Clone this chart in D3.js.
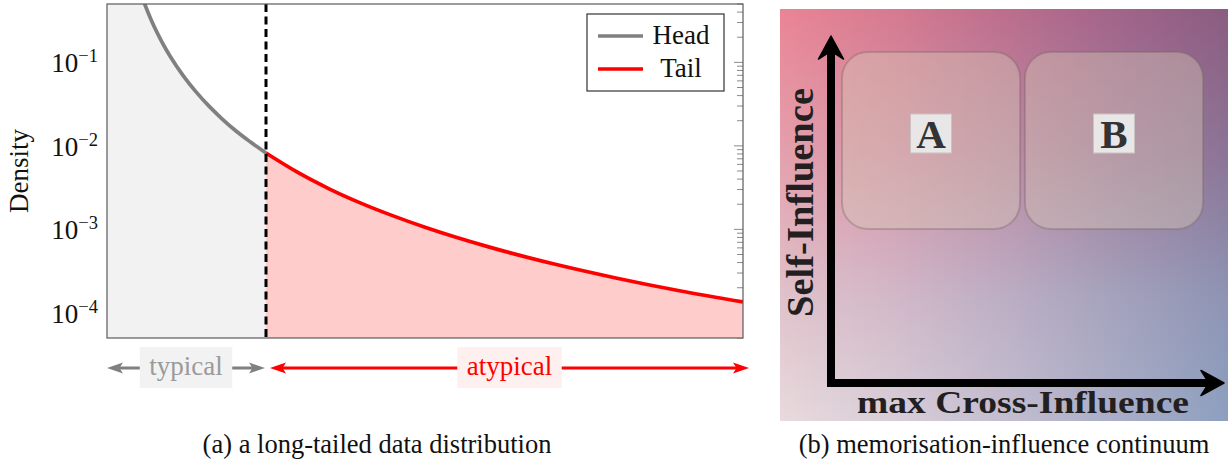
<!DOCTYPE html>
<html>
<head>
<meta charset="utf-8">
<script src="https://cdn.jsdelivr.net/npm/d3@7"></script>
<style>
  body { margin: 0; background: #fff; }
  svg { display: block; }
</style>
</head>
<body>
<div id="chart"></div>
<script>
var w = 1228;
var h = 461;

// (a) density curve
var headX = [0, 0.5, 0.6, 0.7, 0.8, 0.9, 1.0, 1.2, 1.4, 1.6, 1.8, 2.0, 2.25, 2.5];
var headY = [0.79, 0.79, 0.483, 0.316, 0.218, 0.156, 0.116, 0.069, 0.0443, 0.0301, 0.0214, 0.0157, 0.0112, 0.0082];
var tailX = [2.5, 3, 3.5, 4, 4.5, 5, 6, 7, 8, 9, 10];
var tailY = [0.0082, 0.0048, 0.00304, 0.00205, 0.00145, 0.00106, 0.000617, 0.00039, 0.000262, 0.000184, 0.000135];
var threshold = 2.5;
var yTicks = [1e-1, 1e-2, 1e-3, 1e-4];
var yTickExp = ["\u22121", "\u22122", "\u22123", "\u22124"];
var seriesNames = ["Head", "Tail"];
var regionNames = ["typical", "atypical"];

// (b) continuum
var boxLabels = ["A", "B"];
var gradRowStops = [0, 0.35, 0.7, 1];
var gradRows = [
  ["#ea8494", "#d67a90", "#bc6e8c", "#a2648a", "#8a5c80"],
  ["#e4a0ac", "#d494a8", "#bc8aa4", "#a07c9c", "#8c7496"],
  ["#e0c2ca", "#d2b8c8", "#bcaec4", "#a4a2bc", "#8e94b4"],
  ["#e8dadd", "#d8ced8", "#c4bed0", "#aaaec8", "#8ca0c0"]
];
var captions = ["(a) a long-tailed data distribution", "(b) memorisation-influence continuum"];

var serif = "'Liberation Serif', 'Times New Roman', serif";

var svg = d3.select("#chart").append("svg").attr("width", w).attr("height", h);
var defs = svg.append("defs");

// ---------- panel (a) ----------
var x = d3.scaleLinear().domain([0, 10]).range([107, 743]);
var y = d3.scaleLog().domain([5e-5, 0.5]).range([338, 4]);

defs.append("clipPath").attr("id", "plotclip")
  .append("rect")
  .attr("x", x(0)).attr("y", y(0.5))
  .attr("width", x(10) - x(0)).attr("height", y(5e-5) - y(0.5));

var head = headX.map(function (d, i) { return [d, headY[i]]; });
var tail = tailX.map(function (d, i) { return [d, tailY[i]]; });

// right-side log ticks (drawn under the fills)
var minor = [];
[1e-5, 1e-4, 1e-3, 1e-2, 1e-1].forEach(function (b) {
  for (var k = 1; k <= 9; k++) {
    var v = b * k;
    if (v >= 5e-5 && v <= 0.5) minor.push({ v: v, major: k === 1 });
  }
});
svg.append("g")
  .selectAll("line")
  .data(minor)
  .enter()
  .append("line")
  .attr("x1", function (d) { return x(10) - (d.major ? 9 : 6); })
  .attr("x2", x(10))
  .attr("y1", function (d) { return y(d.v); })
  .attr("y2", function (d) { return y(d.v); })
  .attr("stroke", "#8a8a8a")
  .attr("stroke-width", 1);

var area = d3.area()
  .x(function (d) { return x(d[0]); })
  .y0(y(5e-5))
  .y1(function (d) { return y(d[1]); })
  .curve(d3.curveMonotoneX);

var line = d3.line()
  .x(function (d) { return x(d[0]); })
  .y(function (d) { return y(d[1]); })
  .curve(d3.curveMonotoneX);

var plot = svg.append("g").attr("clip-path", "url(#plotclip)");

plot.append("path").datum(head).attr("d", area).attr("fill", "#f2f2f2");
plot.append("path").datum(tail).attr("d", area).attr("fill", "#ffcccc");

plot.append("path").datum(head.slice(1)).attr("d", line)
  .attr("fill", "none").attr("stroke", "#808080").attr("stroke-width", 3.7);
plot.append("path").datum(tail).attr("d", line)
  .attr("fill", "none").attr("stroke", "#ff0000").attr("stroke-width", 3.7);

svg.append("line")
  .attr("x1", x(threshold)).attr("x2", x(threshold))
  .attr("y1", y(0.5)).attr("y2", y(5e-5))
  .attr("stroke", "#000").attr("stroke-width", 3)
  .attr("stroke-dasharray", "8,4.5");

svg.append("rect")
  .attr("x", x(0)).attr("y", y(0.5))
  .attr("width", x(10) - x(0)).attr("height", y(5e-5) - y(0.5))
  .attr("fill", "none").attr("stroke", "#5a5a5a").attr("stroke-width", 1.2);

// y tick labels 10^k
var tl = svg.append("g")
  .selectAll("text")
  .data(yTicks)
  .enter()
  .append("text")
  .attr("x", 98)
  .attr("y", function (d) { return y(d) + 10; })
  .attr("text-anchor", "end")
  .attr("font-family", serif)
  .attr("font-size", "27px")
  .attr("fill", "#111");
tl.append("tspan").text("10");
tl.append("tspan")
  .attr("dy", -10)
  .attr("font-size", "18.5px")
  .text(function (d, i) { return yTickExp[i]; });

svg.append("text")
  .attr("transform", "translate(28," + (y(0.5) + y(5e-5)) / 2 + ") rotate(-90)")
  .attr("text-anchor", "middle")
  .attr("font-family", serif)
  .attr("font-size", "27px")
  .attr("fill", "#111")
  .text("Density");

// legend
var legend = svg.append("g");
legend.append("rect")
  .attr("x", 587).attr("y", 14).attr("width", 137).attr("height", 77)
  .attr("fill", "#fff").attr("stroke", "#333").attr("stroke-width", 1.2);
var legColors = ["#808080", "#ff0000"];
seriesNames.forEach(function (name, i) {
  var ly = 36 + i * 33;
  legend.append("line")
    .attr("x1", 598).attr("x2", 643).attr("y1", ly).attr("y2", ly)
    .attr("stroke", legColors[i]).attr("stroke-width", 3.7);
  legend.append("text")
    .attr("x", 681).attr("y", ly + 8)
    .attr("text-anchor", "middle")
    .attr("font-family", serif)
    .attr("font-size", "27px")
    .attr("fill", "#111")
    .text(name);
});

// region arrows under the axis
function arrowHead(tip, yy, dir) {
  return "M" + tip + "," + yy +
    "L" + (tip - dir * 16) + "," + (yy - 5.5) +
    "L" + (tip - dir * 12.5) + "," + yy +
    "L" + (tip - dir * 16) + "," + (yy + 5.5) + "Z";
}
var regions = [
  { name: regionNames[0], a: x(0), b: x(threshold) - 1, color: "#808080", text: "#9a9a9a", bg: "#f2f2f2" },
  { name: regionNames[1], a: x(threshold) + 4, b: x(10) + 6, color: "#ff0000", text: "#ff0000", bg: "#fff0f0" }
];
var ay = 368;
regions.forEach(function (r) {
  var g = svg.append("g");
  g.append("line")
    .attr("x1", r.a + 10).attr("x2", r.b - 10).attr("y1", ay).attr("y2", ay)
    .attr("stroke", r.color).attr("stroke-width", 3.2);
  g.append("path").attr("d", arrowHead(r.a, ay, -1)).attr("fill", r.color);
  g.append("path").attr("d", arrowHead(r.b, ay, 1)).attr("fill", r.color);
  var cx = (r.a + r.b) / 2;
  var bg = g.append("rect").attr("fill", r.bg);
  var t = g.append("text")
    .attr("x", cx).attr("y", 375)
    .attr("text-anchor", "middle")
    .attr("font-family", serif)
    .attr("font-size", "27px")
    .attr("fill", r.text)
    .text(r.name);
  var tw = t.node().getComputedTextLength();
  bg.attr("x", cx - tw / 2 - 9.5).attr("width", tw + 19)
    .attr("y", 347).attr("height", 41);
});

// ---------- panel (b) ----------
var px0 = 780, px1 = 1228, py0 = 9, py1 = 421;
var nStripes = 112;
var sw = (px1 - px0) / nStripes;
var colScale = gradRows.map(function (row) {
  return d3.scaleLinear()
    .domain(row.map(function (d, i) { return i / (row.length - 1); }))
    .range(row)
    .interpolate(d3.interpolateRgb);
});
var stripes = d3.range(nStripes);
var grads = defs.selectAll("linearGradient.st")
  .data(stripes)
  .enter()
  .append("linearGradient")
  .attr("class", "st")
  .attr("id", function (d) { return "st" + d; })
  .attr("x1", 0).attr("y1", 0).attr("x2", 0).attr("y2", 1);
grads.selectAll("stop")
  .data(function (d) {
    var t = (d + 0.5) / nStripes;
    return gradRowStops.map(function (o, k) { return { o: o, c: colScale[k](t) }; });
  })
  .enter()
  .append("stop")
  .attr("offset", function (d) { return d.o; })
  .attr("stop-color", function (d) { return d.c; });

svg.append("g")
  .selectAll("rect")
  .data(stripes)
  .enter()
  .append("rect")
  .attr("x", function (d) { return px0 + d * sw; })
  .attr("y", py0)
  .attr("width", sw + 0.6)
  .attr("height", py1 - py0)
  .attr("fill", function (d) { return "url(#st" + d + ")"; });

var band = d3.scaleBand().domain(boxLabels).range([842, 1203]).paddingInner(0.027);
var boxes = svg.append("g")
  .selectAll("g")
  .data(boxLabels)
  .enter()
  .append("g");
boxes.append("rect")
  .attr("x", function (d) { return band(d); })
  .attr("y", 52)
  .attr("width", band.bandwidth())
  .attr("height", 177)
  .attr("rx", 26)
  .attr("fill", "rgb(216,202,182)")
  .attr("fill-opacity", 0.4)
  .attr("stroke", "rgb(120,96,100)")
  .attr("stroke-opacity", 0.35)
  .attr("stroke-width", 2);
boxes.append("rect")
  .attr("x", function (d) { return band(d) + band.bandwidth() / 2 - 20.5; })
  .attr("y", 114)
  .attr("width", 41)
  .attr("height", 39)
  .attr("fill", "#e8e6e6")
  .attr("stroke", "#cbc3c3")
  .attr("stroke-width", 1);
boxes.append("text")
  .attr("x", function (d) { return band(d) + band.bandwidth() / 2; })
  .attr("y", 148)
  .attr("text-anchor", "middle")
  .attr("font-family", serif)
  .attr("font-weight", "bold")
  .attr("font-size", "41px")
  .attr("fill", "#333")
  .text(function (d) { return d; });

// L-shaped axes with barbed heads
var ox = 831, oy = 383;
svg.append("path")
  .attr("d", "M" + ox + ",50L" + ox + "," + oy + "L1212," + oy)
  .attr("fill", "none").attr("stroke", "#000").attr("stroke-width", 8)
  .attr("stroke-linejoin", "miter").attr("stroke-linecap", "butt");
svg.append("path")
  .attr("d", "M" + ox + ",36L" + (ox + 12.5) + ",59L" + ox + ",51L" + (ox - 12.5) + ",59Z")
  .attr("fill", "#000").attr("stroke", "#000").attr("stroke-width", 1.5).attr("stroke-linejoin", "round");
svg.append("path")
  .attr("d", "M1224," + oy + "L1201," + (oy - 12.5) + "L1209," + oy + "L1201," + (oy + 12.5) + "Z")
  .attr("fill", "#000").attr("stroke", "#000").attr("stroke-width", 1.5).attr("stroke-linejoin", "round");

svg.append("text")
  .attr("transform", "translate(813,202.5) rotate(-90)")
  .attr("text-anchor", "middle")
  .attr("font-family", serif)
  .attr("font-weight", "bold")
  .attr("font-size", "38px")
  .attr("textLength", 229)
  .attr("lengthAdjust", "spacingAndGlyphs")
  .attr("fill", "#231f20")
  .text("Self-Influence");

svg.append("text")
  .attr("x", 857)
  .attr("y", 413)
  .attr("font-family", serif)
  .attr("font-weight", "bold")
  .attr("font-size", "32px")
  .attr("textLength", 332)
  .attr("lengthAdjust", "spacingAndGlyphs")
  .attr("fill", "#231f20")
  .text("max Cross-Influence");

// captions
svg.selectAll("text.cap")
  .data(captions)
  .enter()
  .append("text")
  .attr("class", "cap")
  .attr("x", function (d, i) { return i === 0 ? 377 : 1004; })
  .attr("y", 453)
  .attr("text-anchor", "middle")
  .attr("font-family", serif)
  .attr("font-size", "26.5px")
  .attr("fill", "#111")
  .text(function (d) { return d; });
</script>
</body>
</html>
